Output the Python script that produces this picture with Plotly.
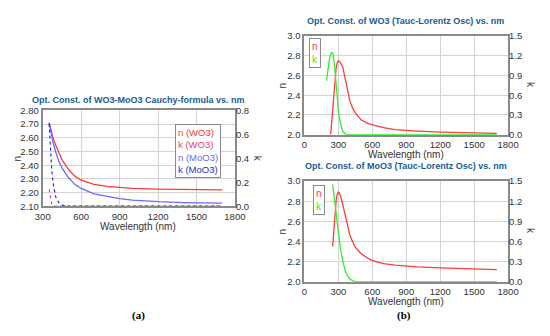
import plotly.graph_objects as go

# ---------------- data: (a) Cauchy formula ----------------
wl_a = [350, 360, 370, 380, 400, 425, 450, 500, 550, 600, 700, 800, 900, 1000, 1200, 1400, 1700]
n_wo3_a = [2.71, 2.67, 2.63, 2.60, 2.55, 2.49, 2.44, 2.37, 2.32, 2.29, 2.26, 2.245, 2.235, 2.23, 2.225, 2.222, 2.22]
n_moo3_a = [2.71, 2.66, 2.61, 2.57, 2.50, 2.43, 2.38, 2.31, 2.26, 2.23, 2.19, 2.17, 2.155, 2.145, 2.133, 2.127, 2.122]
k_wo3_a = [0.14, 0.06, 0.02, 0.006, 0.0, 0.0, 0.0, 0.0, 0.0, 0.0, 0.0, 0.0, 0.0, 0.0, 0.0, 0.0, 0.0]
k_moo3_a = [0.69, 0.45, 0.30, 0.20, 0.08, 0.03, 0.01, 0.0, 0.0, 0.0, 0.0, 0.0, 0.0, 0.0, 0.0, 0.0, 0.0]

# ---------------- data: (b) WO3 Tauc-Lorentz ----------------
wl_n_wo3 = [232, 240, 250, 260, 270, 280, 290, 300, 320, 340, 360, 380, 400, 425, 450, 500, 550, 600, 700, 800, 900, 1000, 1200, 1400, 1700]
n_wo3_tl = [2.00, 2.12, 2.28, 2.42, 2.56, 2.67, 2.73, 2.75, 2.73, 2.68, 2.57, 2.44, 2.35, 2.27, 2.22, 2.15, 2.12, 2.10, 2.07, 2.05, 2.04, 2.035, 2.025, 2.018, 2.012]
wl_k_wo3 = [196, 200, 210, 220, 230, 240, 250, 260, 270, 280, 290, 300, 310, 320, 330, 340, 350, 360, 370, 380, 400, 500, 700, 1000, 1400, 1700]
k_wo3_tl = [0.82, 0.88, 1.02, 1.14, 1.22, 1.25, 1.24, 1.15, 0.98, 0.76, 0.55, 0.38, 0.25, 0.15, 0.09, 0.05, 0.025, 0.012, 0.005, 0.0, 0.0, 0.0, 0.0, 0.0, 0.0, 0.0]

# ---------------- data: (b) MoO3 Tauc-Lorentz ----------------
wl_n_moo3 = [250, 260, 270, 280, 290, 300, 310, 320, 340, 360, 380, 400, 425, 450, 500, 550, 600, 700, 800, 900, 1000, 1200, 1400, 1700]
n_moo3_tl = [2.35, 2.52, 2.68, 2.80, 2.87, 2.89, 2.88, 2.85, 2.76, 2.66, 2.56, 2.47, 2.40, 2.34, 2.28, 2.24, 2.21, 2.18, 2.165, 2.155, 2.148, 2.138, 2.13, 2.12]
wl_k_moo3 = [250, 260, 270, 280, 290, 300, 310, 320, 340, 360, 380, 400, 425, 450, 500, 700, 1000, 1400, 1700]
k_moo3_tl = [1.45, 1.33, 1.18, 1.03, 0.87, 0.72, 0.59, 0.48, 0.30, 0.17, 0.09, 0.045, 0.015, 0.0, 0.0, 0.0, 0.0, 0.0, 0.0]

# tick labels
ticks_x_a = [300, 600, 900, 1200, 1500, 1800]
ticks_n_a = [2.10, 2.20, 2.30, 2.40, 2.50, 2.60, 2.70, 2.80]
ticks_k_a = [0.0, 0.2, 0.4, 0.6, 0.8]
ticks_x_b = [0, 300, 600, 900, 1200, 1500, 1800]
ticks_n_b = [2.0, 2.2, 2.4, 2.6, 2.8, 3.0]
ticks_k_b = [0.0, 0.3, 0.6, 0.9, 1.2, 1.5]

W, H = 550, 336
def px(x):
    return x / W
def py(y):
    return 1 - y / H

RED = "#ff3b3b"
PINK = "#e8407a"
LBLUE = "#6a6aff"
DBLUE = "#2a2ae0"
GREEN = "#33ee33"
TITLE_C = "#1a5c96"
FONT = "Liberation Sans, Arial, sans-serif"
TICKF = dict(family=FONT, size=9.5, color="#333333")

fig = go.Figure()
# (a)
fig.add_trace(go.Scatter(x=wl_a, y=n_wo3_a, mode="lines", line=dict(color=RED, width=1.3), xaxis="x", yaxis="y"))
fig.add_trace(go.Scatter(x=wl_a, y=n_moo3_a, mode="lines", line=dict(color=LBLUE, width=1.3), xaxis="x", yaxis="y"))
fig.add_trace(go.Scatter(x=wl_a, y=k_wo3_a, mode="lines", line=dict(color=PINK, width=1.2, dash="dot"), xaxis="x", yaxis="y2"))
fig.add_trace(go.Scatter(x=wl_a, y=k_moo3_a, mode="lines", line=dict(color=DBLUE, width=1.2, dash="dot"), xaxis="x", yaxis="y2"))
# (b) top
fig.add_trace(go.Scatter(x=wl_n_wo3, y=n_wo3_tl, mode="lines", line=dict(color=RED, width=1.3), xaxis="x2", yaxis="y3"))
fig.add_trace(go.Scatter(x=wl_k_wo3, y=k_wo3_tl, mode="lines", line=dict(color=GREEN, width=1.3), xaxis="x2", yaxis="y4"))
# (b) bottom
fig.add_trace(go.Scatter(x=wl_n_moo3, y=n_moo3_tl, mode="lines", line=dict(color=RED, width=1.3), xaxis="x3", yaxis="y5"))
fig.add_trace(go.Scatter(x=wl_k_moo3, y=k_moo3_tl, mode="lines", line=dict(color=GREEN, width=1.3), xaxis="x3", yaxis="y6"))

frame = dict(showline=True, mirror=True, linecolor="#8a8a8a", linewidth=2, gridcolor="#d4d4d4",
             gridwidth=1, zeroline=False, tickfont=TICKF, ticks="", ticklen=0)

def xa(dom, rng, tv):
    return dict(domain=dom, range=rng, tickvals=tv, ticktext=[str(v) for v in tv], **frame)

def yn(dom, rng, tv, fmt):
    return dict(domain=dom, range=rng, tickvals=tv, ticktext=[fmt.format(v) for v in tv], **frame)

def yk(over, rng, tv, xanchor):
    return dict(overlaying=over, side="right", range=rng, tickvals=tv, anchor=xanchor,
                ticktext=["{:.1f}".format(v) for v in tv], showgrid=False, zeroline=False,
                showline=False, tickfont=TICKF, ticks="", ticklen=0)

dom_xa = [px(36), px(235)]
dom_ya = [py(207), py(108)]
dom_xb = [px(307), px(518)]
dom_yb1 = [py(133), py(31)]
dom_yb2 = [py(285), py(181)]

fig.update_layout(
    width=W, height=H, margin=dict(l=0, r=0, t=0, b=0),
    paper_bgcolor="white", plot_bgcolor="white", showlegend=False,
    xaxis=dict(anchor="y", **xa(dom_xa, [300, 1800], ticks_x_a)),
    yaxis=dict(anchor="x", **yn(dom_ya, [2.10, 2.80], ticks_n_a, "{:.2f}")),
    yaxis2=yk("y", [0, 0.8], ticks_k_a, "x"),
    xaxis2=dict(anchor="y3", **xa(dom_xb, [0, 1800], ticks_x_b)),
    yaxis3=dict(anchor="x2", **yn(dom_yb1, [2.0, 3.0], ticks_n_b, "{:.1f}")),
    yaxis4=yk("y3", [0, 1.5], ticks_k_b, "x2"),
    xaxis3=dict(anchor="y5", **xa(dom_xb, [0, 1800], ticks_x_b)),
    yaxis5=dict(anchor="x3", **yn(dom_yb2, [2.0, 3.0], ticks_n_b, "{:.1f}")),
    yaxis6=yk("y5", [0, 1.5], ticks_k_b, "x3"),
)

def ann(text, x, y, size=10, color="#333333", bold=False, angle=0, family=FONT,
        xanchor="center", yanchor="middle", **kw):
    t = "<b>" + text + "</b>" if bold else text
    fig.add_annotation(text=t, x=px(x), y=py(y), xref="paper", yref="paper", showarrow=False,
                       xanchor=xanchor, yanchor=yanchor,
                       font=dict(family=family, size=size, color=color), textangle=angle, **kw)

# titles
ann("Opt. Const. of WO3-MoO3 Cauchy-formula vs. nm", 135, 97, size=9, color=TITLE_C, bold=True)
ann("Opt. Const. of WO3 (Tauc-Lorentz Osc) vs. nm", 412, 15, size=9, color=TITLE_C, bold=True)
ann("Opt. Const. of MoO3 (Tauc-Lorentz Osc) vs. nm", 412, 165, size=9, color=TITLE_C, bold=True)
# axis titles
ann("Wavelength (nm)", 135, 228, size=10)
ann("Wavelength (nm)", 412, 154, size=10)
ann("Wavelength (nm)", 412, 306, size=10)
ann("n", 10, 158, size=10, angle=-90)
ann("k", 258, 158, size=10, angle=90)
ann("n", 284, 82, size=10, angle=-90)
ann("k", 541, 82, size=10, angle=90)
ann("n", 284, 233, size=10, angle=-90)
ann("k", 541, 233, size=10, angle=90)
# legends
ann("<span style='color:%s'>n (WO3)</span><br><span style='color:%s'>k (WO3)</span><br>"
    "<span style='color:%s'>n (MoO3)</span><br><span style='color:%s'>k (MoO3)</span>" % (RED, PINK, LBLUE, DBLUE),
    173, 122, size=9.5, align="left", xanchor="left", yanchor="top",
    bordercolor="#8a8a8a", borderwidth=1, bgcolor="white", borderpad=2)
ann("<span style='color:%s'>n</span><br><span style='color:%s'>k</span>" % (RED, GREEN),
    312, 33, size=10, align="left", xanchor="left", yanchor="top",
    bordercolor="#8a8a8a", borderwidth=1, bgcolor="white", borderpad=2)
ann("<span style='color:%s'>n</span><br><span style='color:%s'>k</span>" % (RED, GREEN),
    316, 185, size=10, align="left", xanchor="left", yanchor="top",
    bordercolor="#8a8a8a", borderwidth=1, bgcolor="white", borderpad=2)
# panel labels
ann("(a)", 135, 320, size=11, color="#000000", bold=True, family="Liberation Serif, Times New Roman, serif")
ann("(b)", 410, 320, size=11, color="#000000", bold=True, family="Liberation Serif, Times New Roman, serif")

fig.write_html("out.html", config={"displayModeBar": False},
               post_script="document.body.style.margin='0';document.body.style.overflow='hidden';")
